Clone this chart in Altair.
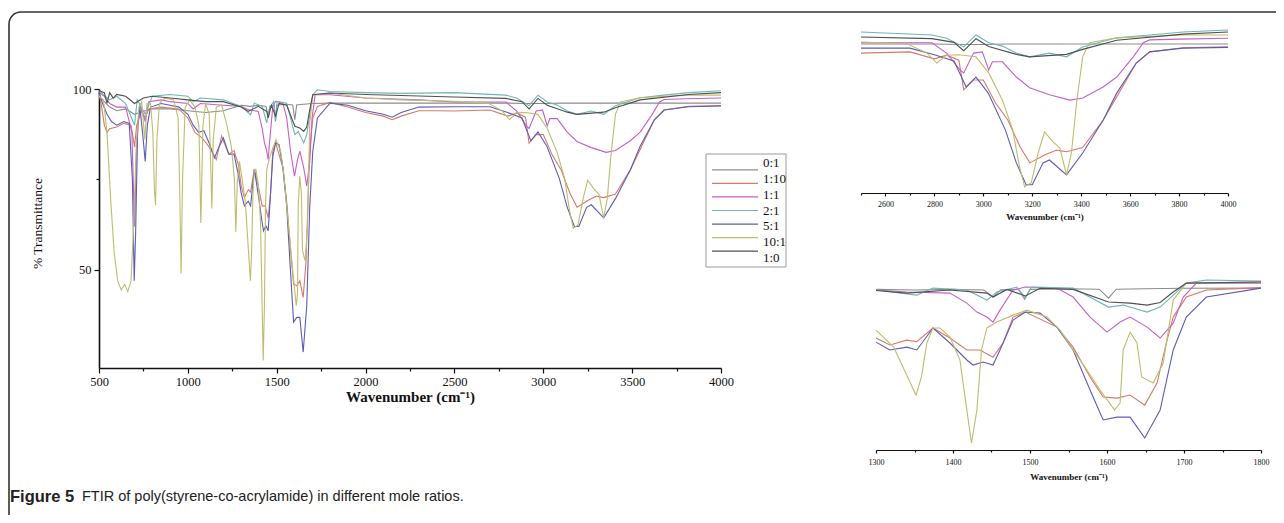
import altair as alt
import pandas as pd

SERIES = ["0:1", "1:10", "1:1", "2:1", "5:1", "10:1", "1:0"]
COLORS = ["#8c8c8c", "#d77a6a", "#c660c6", "#6fb5b9", "#5c5cb8", "#bdbd6e", "#505050"]

S_0_1 = [(500, 98), (530, 96.5), (560, 95), (600, 94), (650, 94.5), (700, 93), (760, 94), (800, 94.5),
         (900, 94.5), (1000, 94), (1100, 93.5), (1200, 94), (1300, 95.5), (1350, 95.2), (1400, 95.5),
         (1440, 95.2), (1452, 92), (1462, 95.3), (1485, 95.5), (1493, 91), (1500, 95.5), (1550, 95.8),
         (1590, 95.6), (1602, 91.5), (1612, 95.6), (1650, 95.8), (1700, 96), (1800, 96.1), (2000, 96.1),
         (2200, 96.1), (2500, 96.1), (2800, 96.1), (2900, 96), (3000, 96), (3100, 96.1), (3200, 96.1),
         (3300, 96.1), (3400, 96.1), (3500, 96.1), (3600, 96.1), (3800, 96.1), (4000, 96.1)]

S_1_10 = [(500, 99), (515, 95), (530, 90), (545, 88), (560, 89), (600, 89.5), (640, 90.5), (680, 90),
          (700, 84), (712, 90), (740, 94), (760, 92), (780, 94.5), (850, 95), (950, 94.5), (1000, 92),
          (1040, 88), (1080, 86.5), (1120, 84), (1160, 80.5), (1190, 87), (1230, 82), (1260, 83), (1285, 79),
          (1300, 73.2), (1318, 70), (1340, 72.2), (1353, 71.5), (1374, 77.8), (1396, 73.2), (1418, 67.7),
          (1435, 67.7), (1452, 64.4), (1465, 70.9), (1478, 82.8), (1494, 85.1), (1535, 78.2), (1556, 69),
          (1578, 55.3), (1595, 46.1), (1613, 45.6), (1630, 47), (1649, 42.4), (1665, 52.5), (1677, 70.9),
          (1686, 82.8), (1703, 92), (1729, 95.2), (1800, 96.3), (1900, 95), (2000, 93.5), (2100, 92.5),
          (2150, 91.5), (2200, 92.5), (2300, 94), (2400, 94), (2500, 93.9), (2700, 94.2), (2800, 92.5),
          (2850, 93.4), (2900, 92.2), (2920, 85), (2960, 87.4), (3000, 87.4), (3050, 81.8), (3100, 77.7),
          (3150, 71.2), (3190, 67.3), (3250, 69.2), (3300, 70.4), (3340, 70), (3406, 71), (3490, 77.7),
          (3545, 83.3), (3625, 91.5), (3680, 94.2), (3816, 95.2), (4000, 95.4)]

S_1_1 = [(500, 99), (530, 98), (560, 96), (600, 95), (650, 95), (685, 88), (700, 62), (712, 85), (730, 96),
         (760, 91), (780, 96.5), (850, 97), (900, 96.5), (1000, 96), (1030, 94.5), (1070, 96), (1200, 95.5),
         (1300, 95.2), (1340, 94.3), (1396, 93.8), (1418, 89.2), (1431, 85.1), (1444, 82.8), (1452, 80.5),
         (1461, 86), (1478, 95.2), (1494, 96.6), (1535, 96.1), (1556, 92), (1578, 82.8), (1600, 75.9),
         (1617, 80.5), (1630, 82.8), (1652, 78.2), (1669, 73.2), (1686, 80), (1699, 92), (1716, 98.4),
         (1800, 98.4), (2000, 97.5), (2300, 97), (2500, 96.4), (2790, 96.4), (2850, 93.9), (2905, 89.8),
         (2920, 89.1), (2960, 93.9), (2996, 94.2), (3022, 89.8), (3037, 91.8), (3078, 91.8), (3135, 88.1),
         (3189, 85.5), (3270, 83.8), (3354, 82.5), (3406, 83), (3490, 85.7), (3545, 88.1), (3613, 93),
         (3654, 96.4), (3680, 97.1), (3800, 97.3), (4000, 97.5)]

S_2_1 = [(500, 99.5), (560, 97), (600, 98), (650, 96), (700, 90), (715, 97), (760, 93), (800, 98), (900, 98.5),
         (1000, 98), (1030, 96.5), (1070, 97.5), (1200, 97), (1300, 95.2), (1353, 92.9), (1374, 96.1),
         (1418, 95.2), (1444, 90.6), (1457, 94.3), (1483, 96.6), (1494, 91.5), (1502, 96.6), (1556, 96.1),
         (1602, 87.4), (1621, 88.3), (1652, 85.1), (1669, 87.4), (1686, 92.9), (1703, 98.4), (1729, 99.8),
         (1800, 99.3), (2000, 99), (2200, 98.8), (2500, 99), (2790, 98.3), (2850, 97.5), (2920, 95.4),
         (2970, 98.3), (3022, 96.4), (3078, 95.6), (3135, 93.9), (3189, 93), (3270, 93.9), (3340, 93),
         (3406, 95.4), (3545, 97.6), (3680, 98.3), (3816, 99), (4000, 99.5)]

S_5_1 = [(500, 99), (520, 96), (545, 93), (570, 91), (600, 90), (640, 91), (670, 90.5), (688, 75), (698, 47),
         (706, 60), (718, 90), (730, 95), (745, 88), (760, 80), (772, 90), (790, 95), (850, 96), (900, 95.5),
         (950, 95), (1000, 93), (1030, 90), (1060, 88), (1090, 88.5), (1120, 85), (1150, 81), (1175, 84),
         (1200, 86.5), (1230, 82), (1260, 82), (1285, 76), (1300, 71.3), (1318, 67.7), (1340, 69),
         (1353, 67.7), (1374, 77.8), (1396, 70.9), (1418, 63.1), (1426, 60.8), (1439, 62.2), (1452, 60.8),
         (1461, 67.7), (1478, 81.4), (1494, 85.1), (1513, 84.6), (1535, 78.2), (1556, 67.7), (1578, 49.3),
         (1595, 35.6), (1613, 36.9), (1630, 36.9), (1649, 27.3), (1669, 40.1), (1686, 67.7), (1703, 82.8),
         (1729, 92), (1800, 96.1), (1900, 95.5), (2000, 94), (2100, 93), (2150, 92.2), (2200, 93.5),
         (2300, 95), (2500, 95.1), (2700, 95.1), (2800, 93.5), (2880, 92), (2930, 85.7), (2970, 88.1),
         (3020, 84.2), (3090, 75.3), (3135, 67.3), (3175, 62), (3200, 62), (3244, 67.3), (3270, 68),
         (3340, 64.4), (3406, 69.7), (3490, 77.7), (3545, 84.2), (3625, 91.5), (3680, 94.2), (3816, 95.1),
         (4000, 95.3)]

S_10_1 = [(500, 98), (525, 97), (545, 88), (565, 70), (585, 55), (605, 47), (625, 44.5), (645, 46), (662, 44),
          (680, 47), (695, 62), (710, 85), (725, 95), (740, 96.5), (758, 86), (770, 96), (790, 96), (803, 88),
          (812, 72), (818, 68), (826, 86), (840, 96), (870, 97.5), (920, 97), (945, 92), (955, 70), (962, 49),
          (970, 75), (985, 95), (1010, 97), (1040, 95), (1062, 90), (1073, 63), (1085, 90), (1100, 96),
          (1120, 93), (1128, 80), (1135, 67), (1143, 86), (1160, 95), (1190, 95.5), (1215, 91), (1245, 84),
          (1262, 75), (1270, 60.5), (1278, 74), (1290, 80), (1300, 76.8), (1323, 69), (1341, 55.3),
          (1352, 47), (1359, 55.3), (1366, 70.9), (1374, 77.8), (1383, 77.8), (1396, 73.6), (1409, 63.1),
          (1418, 40.1), (1424, 25), (1431, 40.1), (1437, 67.7), (1444, 77.8), (1457, 80.5), (1478, 83.7),
          (1496, 86), (1522, 82.8), (1539, 76.8), (1556, 67.7), (1574, 58.5), (1591, 49.3), (1610, 40.1),
          (1617, 43.3), (1621, 67.7), (1630, 75.9), (1639, 70.9), (1645, 55.3), (1660, 52.5), (1673, 61.7),
          (1686, 90.6), (1703, 98.4), (1800, 98.9), (2000, 97.5), (2200, 97), (2500, 96.6), (2690, 96.1),
          (2770, 93.9), (2810, 91.5), (2850, 93.4), (2900, 93.5), (2970, 93), (3022, 89.1), (3078, 82.5),
          (3120, 75.3), (3148, 66.3), (3169, 61.5), (3196, 62.5), (3224, 69.7), (3250, 74.8), (3285, 72.4),
          (3313, 70.9), (3340, 64.4), (3360, 69.7), (3381, 81.8), (3406, 93), (3434, 96.4), (3545, 97.6),
          (3816, 98.3), (4000, 98.3)]

S_1_0 = [(500, 99.5), (530, 99), (545, 96), (560, 99), (580, 97.5), (600, 98.5), (650, 98), (700, 96),
         (750, 97.5), (800, 98), (900, 97.5), (1000, 97), (1100, 96.5), (1200, 96.5), (1300, 95), (1340, 93.8),
         (1396, 95.2), (1444, 93.8), (1452, 92), (1470, 95.5), (1494, 92.5), (1513, 96), (1556, 95.5),
         (1602, 89.7), (1630, 89.2), (1652, 88.3), (1669, 89.5), (1686, 94.3), (1703, 98.4), (1800, 98.9),
         (2000, 98.5), (2500, 97.8), (2790, 97.4), (2880, 96.5), (2920, 94.5), (2970, 97.4), (3022, 95.5),
         (3135, 93.6), (3189, 93), (3340, 93.6), (3406, 94.8), (3545, 97), (3816, 98.5), (4000, 99)]

ALL = [S_0_1, S_1_10, S_1_1, S_2_1, S_5_1, S_10_1, S_1_0]

rows = []
for name, pts in zip(SERIES, ALL):
    for w, t in pts:
        rows.append({"series": name, "w": w, "t": t})
df = pd.DataFrame(rows)
legend_df = pd.DataFrame({"series": SERIES})
one = pd.DataFrame({"k": [0]})

W, H = 1268, 507
SERIF = "Liberation Serif"
INK = "#111111"

color = alt.Color("series:N", scale=alt.Scale(domain=SERIES, range=COLORS), legend=None)


def xaxis(offset, values, major_test, fs, tfs, title_y, tick_major, tick_minor, dw, lpad):
    return alt.Axis(
        orient="bottom", offset=offset, values=values, format="d",
        labelExpr=f"{major_test} ? datum.label : ''",
        tickSize={"condition": {"test": major_test, "value": tick_major}, "value": tick_minor},
        labelFont=SERIF, labelFontSize=fs, labelColor=INK, labelPadding=lpad,
        labelOverlap=False, labelFlush=False, grid=False,
        domainColor=INK, domainWidth=dw, tickColor=INK, tickWidth=1.2,
        title="Wavenumber (cm\u207b\u00b9)", titleFont=SERIF, titleFontSize=tfs,
        titleFontWeight="bold", titleColor=INK, titleY=title_y, titleBaseline="middle",
    )


frame = alt.Chart(one).mark_rect(filled=False, stroke="#333333", strokeWidth=1.6, cornerRadius=12).encode(
    x=alt.value(1), x2=alt.value(1320), y=alt.value(4), y2=alt.value(560)
)

main = alt.Chart(df).mark_line(strokeWidth=1.1).encode(
    x=alt.X("w:Q", scale=alt.Scale(domain=[500, 4000], range=[91, 713], nice=False, zero=False),
            axis=xaxis(-147, list(range(500, 4001, 250)), "datum.value % 500 === 0", 12.5, 15, 28, 5, 3, 1.6, 2)),
    y=alt.Y("t:Q", scale=alt.Scale(domain=[22.9, 100], range=[360, 81], nice=False, zero=False),
            axis=alt.Axis(orient="left", offset=-91, values=[100, 75, 50], format="d",
                          labelExpr="datum.value == 75 ? '' : datum.label",
                          tickSize={"condition": {"test": "datum.value == 75", "value": 3}, "value": 5},
                          labelFont=SERIF, labelFontSize=12.5, labelColor=INK, labelPadding=3,
                          domainColor=INK, domainWidth=1.6, tickColor=INK, tickWidth=1.2, grid=False,
                          title="% Transmittance", titleFont=SERIF, titleFontSize=13.5,
                          titleFontWeight="normal", titleColor=INK, titleX=-62, titleY=215,
                          titleBaseline="middle", titleAngle=270)),
    color=color,
)

leg_box = alt.Chart(one).mark_rect(fill="white", stroke="#9a9a9a", strokeWidth=1).encode(
    x=alt.value(698), x2=alt.value(778), y=alt.value(146), y2=alt.value(259)
)
leg_y = alt.Y("series:N", scale=alt.Scale(domain=SERIES, range=[155, 250], padding=0), axis=None)
leg_lines = alt.Chart(legend_df).mark_rule(strokeWidth=1.2).encode(
    x=alt.value(704), x2=alt.value(750), y=leg_y, color=color
)
leg_text = alt.Chart(legend_df).mark_text(align="left", baseline="middle", font=SERIF, fontSize=13,
                                          color=INK).encode(
    x=alt.value(755), y=leg_y, text="series:N"
)

top = alt.Chart(df).transform_filter("datum.w >= 2500").mark_line(strokeWidth=1.1).encode(
    x=alt.X("w:Q", scale=alt.Scale(domain=[2500, 4000], range=[853, 1220], nice=False, zero=False),
            axis=xaxis(185 - H, list(range(2500, 4001, 100)), "datum.value % 200 === 0", 8, 9, 23, 3, 2, 1.2, 4)),
    y=alt.Y("t:Q", scale=alt.Scale(domain=[60.0, 99.5], range=[185, 22], nice=False, zero=False), axis=None),
    color=color,
)

bottom = alt.Chart(df).transform_filter("datum.w >= 1300 && datum.w <= 1800").mark_line(strokeWidth=1.1).encode(
    x=alt.X("w:Q", scale=alt.Scale(domain=[1300, 1800], range=[868, 1253], nice=False, zero=False),
            axis=xaxis(442 - H, list(range(1300, 1801, 50)), "datum.value % 100 === 0", 8, 9, 26, 3, 2, 1.2, 5)),
    y=alt.Y("t:Q", scale=alt.Scale(domain=[21.8, 98.9], range=[442, 274], nice=False, zero=False), axis=None),
    color=color,
)

cap_bold = alt.Chart(one).mark_text(align="left", baseline="middle", font="Liberation Sans", fontSize=16.5,
                                    fontWeight="bold", color="#222222").encode(
    x=alt.value(2), y=alt.value(489), text=alt.value("Figure 5")
)
cap_text = alt.Chart(one).mark_text(align="left", baseline="middle", font="Liberation Sans", fontSize=14.5,
                                    color="#222222").encode(
    x=alt.value(74), y=alt.value(489),
    text=alt.value("FTIR of poly(styrene-co-acrylamide) in different mole ratios.")
)

chart = alt.layer(
    frame, main, leg_box, leg_lines, leg_text, top, bottom, cap_bold, cap_text
).resolve_scale(
    x="independent", y="independent", color="shared"
).properties(
    width=W, height=H, autosize=alt.AutoSizeParams(type="none"), padding=0,
    background="white",
).configure_view(stroke=None)

chart.save("out.html", embed_options={"renderer": "svg", "actions": False})
